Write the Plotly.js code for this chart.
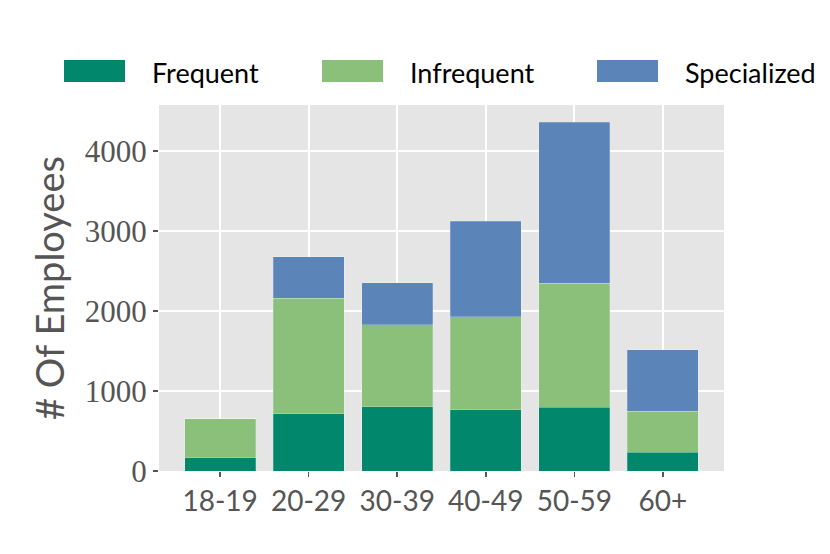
<!DOCTYPE html>
<html>
<head>
<meta charset="utf-8">
<script src="https://cdn.plot.ly/plotly-3.0.1.min.js"></script>
<style>
  html, body { margin: 0; padding: 0; background: #fff; }
  #chart { width: 830px; height: 554px; }
</style>
</head>
<body>
<div id="chart"></div>
<script>
// data
var ageGroups = ["18-19", "20-29", "30-39", "40-49", "50-59", "60+"];
var frequent = [167, 714, 806, 768, 798, 234];
var infrequent = [484, 1444, 1023, 1161, 1549, 513];
var specialized = [0, 523, 526, 1194, 2012, 769];
var seriesNames = ["Frequent", "Infrequent", "Specialized"];
var yTicks = [0, 1000, 2000, 3000, 4000];

var colors = ["#00876c", "#8ac07a", "#5b84b8"];
var seriesVals = [frequent, infrequent, specialized];

// plot box in pixels (for the hand-drawn legend)
var W = 830, H = 554;
var M = { l: 159, r: 106, t: 105, b: 83 };
var plotW = W - M.l - M.r, plotH = H - M.t - M.b;
var legendLeft = [64, 322, 597];
function px2x(p) { return (p - M.l) / plotW; }
function py2y(p) { return (H - M.b - p) / plotH; }

var traces = seriesVals.map(function(vals, i) {
  return {
    type: "bar",
    name: seriesNames[i],
    x: ageGroups,
    y: vals,
    width: 0.8,
    marker: { color: colors[i], line: { color: "rgba(255,255,255,0.35)", width: 0.6 } },
    showlegend: false,
    hoverinfo: "x+y+name"
  };
});

var shapes = [];
var annotations = [];
seriesNames.forEach(function(name, i) {
  var x0 = legendLeft[i];
  shapes.push({
    type: "rect", xref: "paper", yref: "paper",
    x0: px2x(x0), x1: px2x(x0 + 61), y0: py2y(82), y1: py2y(60),
    fillcolor: colors[i], line: { width: 0 }
  });
  annotations.push({
    xref: "paper", yref: "paper", x: px2x(x0 + 86), y: py2y(72),
    xanchor: "left", yanchor: "middle", showarrow: false,
    text: name, font: { family: "Lato, sans-serif", size: 27, color: "#000" }
  });
});

var layout = {
  width: W, height: H,
  margin: M,
  barmode: "stack",
  paper_bgcolor: "#fff",
  plot_bgcolor: "#e5e5e5",
  showlegend: false,
  xaxis: {
    type: "category",
    range: [-0.69, 5.69],
    showgrid: true, gridcolor: "#fff", gridwidth: 2,
    zeroline: false, showline: false,
    ticks: "outside", ticklen: 5, tickwidth: 1.5, tickcolor: "#555",
    tickfont: { family: "Lato, sans-serif", size: 28, color: "#555" }
  },
  yaxis: {
    range: [0, 4577],
    tickvals: yTicks,
    showgrid: true, gridcolor: "#fff", gridwidth: 2,
    zeroline: false, showline: false,
    ticks: "outside", ticklen: 5, tickwidth: 1.5, tickcolor: "#555",
    tickfont: { family: "Liberation Serif, serif", size: 31, color: "#555" },
    title: { text: "# Of Employees", font: { family: "Lato, sans-serif", size: 38, color: "#555" }, standoff: 8 }
  },
  shapes: shapes,
  annotations: annotations
};

Plotly.newPlot("chart", traces, layout, { displayModeBar: false, staticPlot: true });
</script>
</body>
</html>
